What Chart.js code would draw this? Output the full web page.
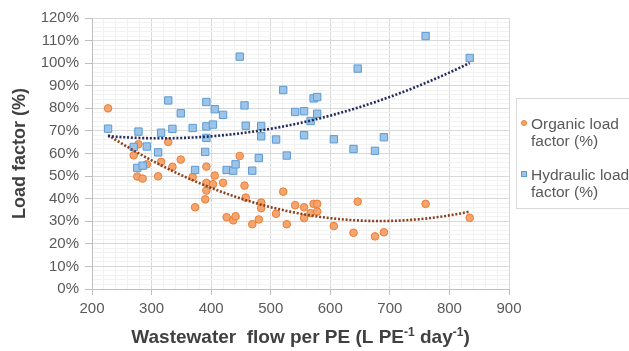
<!DOCTYPE html>
<html>
<head>
<meta charset="utf-8">
<script src="https://cdn.jsdelivr.net/npm/chart.js@4.4.1/dist/chart.umd.min.js"></script>
<style>
  html, body { margin: 0; padding: 0; background: #fff; }
  #wrap { position: relative; width: 629px; height: 351px; }
  #legend {
    position: absolute; left: 516px; top: 98px; width: 130px; height: 111px;
    border: 1px solid #d9d9d9; box-sizing: border-box;
    font: 15.5px "Liberation Sans", Arial, sans-serif; color: #595959; line-height: 17px;
  }
  .item { position: absolute; left: 14px; }
  .mk { position: absolute; left: -10px; top: 5px; width: 6px; height: 6px; box-sizing: border-box; }
  .mk.org { border-radius: 50%; background: #f4a46e; border: 1px solid #ed7d31; }
  .mk.hyd { background: #9dc3e6; border: 1px solid #5b9bd5; }
</style>
</head>
<body>
<div id="wrap">
  <canvas id="c" width="629" height="351"></canvas>
  <div id="legend">
    <div class="item" style="top:16px"><span class="mk org"></span>Organic load<br>factor (%)</div>
    <div class="item" style="top:67px"><span class="mk hyd"></span>Hydraulic load<br>factor (%)</div>
  </div>
</div>
<script>
'use strict';

// wastewater flow per PE (L PE-1 day-1), one entry per plant
var flow = [227, 270, 276, 278, 285, 292, 311, 316, 328, 335, 349, 369, 373, 390, 392, 392, 392,
    403, 406, 420, 426, 437, 441, 448, 456, 458, 469, 480, 484, 484, 509, 521, 527, 541, 556, 556,
    567, 572, 578, 578, 606, 639, 646, 675, 690, 760, 834];
// organic load factor (%)
var organic = [80, 59.2, 49.8, 64.1, 48.9, 55.2, 49.9, 56.3, 65.1, 54.1, 57.3, 49.6, 36.2, 39.7, 54.2, 47, 43.6,
    46.4, 50.2, 47, 31.8, 30.4, 32.2, 58.9, 45.8, 40.5, 28.7, 30.8, 38.3, 35.8, 33.3, 43.1, 28.7, 37.1, 36.2, 31.4,
    33.6, 37.7, 37.7, 34.3, 27.9, 24.9, 38.7, 23.3, 25.1, 37.7, 31.5];
// hydraulic load factor (%)
var hydraulic = [71, 62.9, 53.6, 69.7, 54.6, 63.1, 60.5, 69.2, 83.5, 70.9, 77.8, 71.3, 52.7, 60.7, 82.8, 72, 66.9,
    72.8, 79.6, 77.1, 52.7, 52.4, 55.2, 102.9, 81.3, 72.3, 52.4, 58, 72.2, 67.6, 66.2, 88.1, 59.1, 78.4, 78.7, 68.1,
    74.4, 84.4, 85, 77.6, 66.3, 62, 97.6, 61.2, 67.2, 112, 102.3];

var xTicks = [200, 300, 400, 500, 600, 700, 800, 900];
var yTicks = [0, 10, 20, 30, 40, 50, 60, 70, 80, 90, 100, 110, 120];

var FONT = '"Liberation Sans", Arial, sans-serif';

/**
 * Points for a chart dataset.
 * @param {Array} xs x values
 * @param {Array} ys y values
 * @returns {Array}
 */
function toPoints(xs, ys) {
    return xs.map(function(x, i) {
        return {x: x, y: ys[i]};
    });
}

/**
 * Second order least squares trend, like the spreadsheet one.
 * @param {Array} xs x values
 * @param {Array} ys y values
 * @returns {Array} points along the fitted curve
 */
function polyTrend(xs, ys) {
    var n = xs.length, mx = 0, i, j, k;
    xs.forEach(function(x) { mx += x / n; });
    var s = [0, 0, 0, 0, 0], t = [0, 0, 0];
    for (i = 0; i < n; i++) {
        var d = xs[i] - mx;
        for (k = 0; k < 5; k++) s[k] += Math.pow(d, k);
        for (k = 0; k < 3; k++) t[k] += Math.pow(d, k) * ys[i];
    }
    var m = [[s[0], s[1], s[2], t[0]], [s[1], s[2], s[3], t[1]], [s[2], s[3], s[4], t[2]]];
    for (i = 0; i < 3; i++) {
        for (j = i + 1; j < 3; j++) {
            var f = m[j][i] / m[i][i];
            for (k = i; k < 4; k++) m[j][k] -= f * m[i][k];
        }
    }
    var c = [0, 0, 0];
    for (i = 2; i >= 0; i--) {
        var v = m[i][3];
        for (k = i + 1; k < 3; k++) v -= m[i][k] * c[k];
        c[i] = v / m[i][i];
    }
    var lo = Math.min.apply(null, xs), hi = Math.max.apply(null, xs), out = [];
    for (i = 0; i <= 80; i++) {
        var x = lo + (hi - lo) * i / 80, dx = x - mx;
        out.push({x: x, y: c[0] + c[1] * dx + c[2] * dx * dx});
    }
    return out;
}

function isMajor(list, v) {
    return list.some(function(t) { return Math.abs(t - v) < 1e-6; });
}

// x axis title with superscripts
var xTitlePlugin = {
    id: 'xTitle',
    afterDraw: function(chart) {
        var ctx = chart.ctx, area = chart.chartArea;
        var parts = [
            {t: 'Wastewater  flow per PE (L PE', sup: false},
            {t: '-1', sup: true},
            {t: ' day', sup: false},
            {t: '-1', sup: true},
            {t: ')', sup: false}
        ];
        ctx.save();
        ctx.fillStyle = '#404040';
        ctx.textBaseline = 'alphabetic';
        var total = 0;
        parts.forEach(function(p) {
            ctx.font = 'bold ' + (p.sup ? 12 : 19) + 'px ' + FONT;
            p.w = ctx.measureText(p.t).width;
            total += p.w;
        });
        var x = (area.left + area.right) / 2 - total / 2, y = 343;
        parts.forEach(function(p) {
            ctx.font = 'bold ' + (p.sup ? 12 : 19) + 'px ' + FONT;
            ctx.fillText(p.t, x, p.sup ? y - 7 : y);
            x += p.w;
        });
        ctx.restore();
    }
};

var trendDash = [2, 1.8];

new Chart(document.getElementById('c'), {
    type: 'scatter',
    data: {
        datasets: [{
            label: 'Hydraulic trend',
            data: polyTrend(flow, hydraulic),
            showLine: true,
            pointRadius: 0,
            borderColor: '#232c5c',
            borderWidth: 2.6,
            borderDash: trendDash,
            order: 0
        }, {
            label: 'Organic trend',
            data: polyTrend(flow, organic),
            showLine: true,
            pointRadius: 0,
            borderColor: '#8a3f1e',
            borderWidth: 2.6,
            borderDash: trendDash,
            order: 1
        }, {
            label: 'Organic load factor (%)',
            data: toPoints(flow, organic),
            pointStyle: 'circle',
            pointRadius: 3.8,
            backgroundColor: '#f4a46e',
            borderColor: '#ed7d31',
            borderWidth: 1,
            order: 3
        }, {
            label: 'Hydraulic load factor (%)',
            data: toPoints(flow, hydraulic),
            pointStyle: 'rect',
            pointRadius: 5.2,
            backgroundColor: '#9dc3e6',
            borderColor: '#5b9bd5',
            borderWidth: 1,
            order: 2
        }]
    },
    options: {
        responsive: false,
        animation: false,
        events: [],
        layout: {padding: {top: 18, right: 120, left: 0, bottom: 0}},
        plugins: {legend: {display: false}, tooltip: {enabled: false}},
        scales: {
            x: {
                type: 'linear',
                min: 200,
                max: 900,
                afterFit: function(scale) { scale.height = 62; },
                ticks: {
                    stepSize: 20,
                    autoSkip: false,
                    maxRotation: 0,
                    padding: 5,
                    color: '#595959',
                    font: {family: FONT, size: 15},
                    callback: function(v) { return isMajor(xTicks, v) ? String(v) : ''; }
                },
                grid: {
                    tickLength: 6,
                    color: function(c) { return c.tick && isMajor(xTicks, c.tick.value) ? '#d9d9d9' : '#f2f2f2'; },
                    tickColor: function(c) { return c.tick && isMajor(xTicks, c.tick.value) ? '#bfbfbf' : 'rgba(0,0,0,0)'; }
                },
                border: {color: '#bfbfbf'}
            },
            y: {
                type: 'linear',
                min: 0,
                max: 120,
                afterFit: function(scale) { scale.width = 92; },
                title: {
                    display: true,
                    text: 'Load factor (%)',
                    color: '#404040',
                    font: {family: FONT, size: 18, weight: 'bold'},
                    padding: {top: 9, bottom: 0}
                },
                ticks: {
                    stepSize: 2,
                    autoSkip: false,
                    padding: 6,
                    color: '#595959',
                    font: {family: FONT, size: 15},
                    callback: function(v) { return isMajor(yTicks, v) ? v + '%' : ''; }
                },
                grid: {
                    tickLength: 7,
                    color: function(c) { return c.tick && isMajor(yTicks, c.tick.value) ? '#d9d9d9' : '#f2f2f2'; },
                    tickColor: function(c) { return c.tick && isMajor(yTicks, c.tick.value) ? '#bfbfbf' : 'rgba(0,0,0,0)'; }
                },
                border: {color: '#bfbfbf'}
            }
        }
    },
    plugins: [xTitlePlugin]
});
</script>
</body>
</html>
